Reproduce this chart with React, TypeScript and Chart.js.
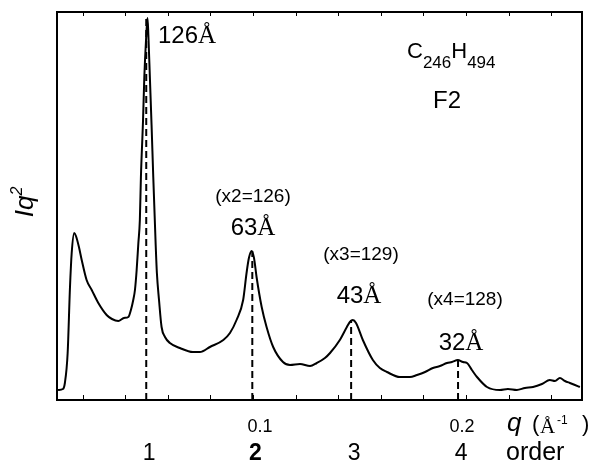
import React, { useEffect, useRef } from "react";
import { Chart, registerables } from "chart.js";

Chart.register(...registerables);

// Scattering vector q (Å^-1) and intensity Iq^2 (arbitrary units)
const qValues = [
  0.0085, 0.0108, 0.0117, 0.0130, 0.0141, 0.0149, 0.0161, 0.0169, 0.0183, 0.0196,
  0.0219, 0.0243, 0.0274, 0.0313, 0.0338, 0.0368, 0.0394, 0.0415, 0.0427, 0.0438,
  0.0446, 0.0454, 0.0462, 0.0469, 0.0474, 0.0484, 0.0490, 0.0498, 0.0505, 0.0509,
  0.0516, 0.0524, 0.0532, 0.0543, 0.0549, 0.0559, 0.0571, 0.0587, 0.0610, 0.0657,
  0.0718, 0.0751, 0.0798, 0.0861, 0.0892, 0.0923, 0.0954, 0.0970, 0.0981, 0.0994,
  0.1005, 0.1017, 0.1041, 0.1064, 0.1095, 0.1141, 0.1174, 0.1221, 0.1268, 0.1300,
  0.1338, 0.1362, 0.1408, 0.1441, 0.1455, 0.1469, 0.1484, 0.1516, 0.1563, 0.1596,
  0.1629, 0.1690, 0.1737, 0.1770, 0.1808, 0.1845, 0.1878, 0.1911, 0.1934, 0.1962,
  0.1986, 0.2005, 0.2028, 0.2052, 0.2099, 0.2160, 0.2197, 0.2239, 0.2277, 0.2315,
  0.2357, 0.2394, 0.2418, 0.2441, 0.2465, 0.2488, 0.2512, 0.2535,
];
const intensity = [
  10, 11, 17, 47, 113, 147, 167, 164, 153, 140,
  120, 110, 97, 85, 81, 79, 82, 83, 90, 100,
  110, 130, 157, 180, 223, 280, 323, 360, 382, 365,
  323, 275, 223, 157, 127, 100, 73, 63, 57, 52,
  48, 48, 53, 60, 67, 80, 100, 127, 142, 149,
  142, 123, 93, 73, 53, 38, 35, 36, 34, 37,
  42, 47, 60, 73, 78, 80, 77, 60, 40, 32,
  28, 23, 23, 25, 28, 32, 34, 37, 38, 40,
  38, 37, 30, 23, 13, 10, 11, 10, 12, 13,
  16, 20, 19, 22, 19, 17, 15, 13,
];

// Bragg peaks (dashed markers)
const peakQ = [0.0499, 0.0997, 0.1461, 0.1963];
const peakTop = [382, 149, 80, 40];
const spacingLabels = ["126", "63", "43", "32"];
const multipleLabels = ["", "(x2=126)", "(x3=129)", "(x4=128)"];
const orderLabels = ["1", "2", "3", "4"];

// Axis ticks
const minorTicks = [0.02, 0.04, 0.06, 0.08, 0.1, 0.12, 0.14, 0.16, 0.18, 0.2, 0.22, 0.24];
const tickLabelValues = [0.1, 0.2];
const tickLabels = ["0.1", "0.2"];

const SANS = "'Liberation Sans', Arial, sans-serif";
const SERIF = "'Liberation Serif', 'Times New Roman', serif";

type Part = { t: string; font: string; dy?: number };

function drawRun(ctx: CanvasRenderingContext2D, parts: Part[], x: number, y: number, align: "left" | "center") {
  let total = 0;
  const widths = parts.map((p) => {
    ctx.font = p.font;
    const w = ctx.measureText(p.t).width;
    total += w;
    return w;
  });
  let cx = align === "center" ? x - total / 2 : x;
  ctx.textAlign = "left";
  ctx.textBaseline = "alphabetic";
  parts.forEach((p, i) => {
    ctx.font = p.font;
    ctx.fillText(p.t, cx, y + (p.dy || 0));
    cx += widths[i];
  });
}

const overlayPlugin = {
  id: "overlay",
  afterDraw(chart: any) {
    const ctx: CanvasRenderingContext2D = chart.ctx;
    const a = chart.chartArea;
    const xs = chart.scales.x;
    ctx.save();
    ctx.fillStyle = "#000";
    ctx.strokeStyle = "#000";

    // frame
    ctx.lineWidth = 2;
    ctx.strokeRect(a.left, a.top, a.right - a.left, a.bottom - a.top);

    // tick marks (inside, top and bottom)
    ctx.lineWidth = 1;
    minorTicks.forEach((t) => {
      const px = Math.round(xs.getPixelForValue(t)) + 0.5;
      ctx.beginPath();
      ctx.moveTo(px, a.bottom);
      ctx.lineTo(px, a.bottom - 5);
      ctx.moveTo(px, a.top);
      ctx.lineTo(px, a.top + 4);
      ctx.stroke();
    });

    // tick labels
    const tickOffsets = [7, -4];
    tickLabelValues.forEach((v, i) => {
      const px = xs.getPixelForValue(v) + tickOffsets[i];
      drawRun(ctx, [{ t: tickLabels[i], font: `18px ${SANS}` }], px, 432, "center");
    });

    // order labels
    orderLabels.forEach((lab, i) => {
      const px = xs.getPixelForValue(peakQ[i]) + 3;
      const font = i === 1 ? `bold 23px ${SANS}` : `23px ${SANS}`;
      drawRun(ctx, [{ t: lab, font }], px, 460, "center");
    });
    drawRun(ctx, [{ t: "order", font: `25px ${SANS}` }], 506, 460, "left");

    // x axis title: q ( Å^-1 )
    drawRun(ctx, [{ t: "q", font: `italic 26px ${SANS}` }], 507, 431, "left");
    drawRun(ctx, [{ t: "(", font: `22px ${SANS}` }], 532, 431, "left");
    drawRun(ctx, [{ t: "Å", font: `21px ${SERIF}` }], 540, 433, "left");
    drawRun(ctx, [{ t: "-1", font: `12px ${SANS}` }], 557, 424, "left");
    drawRun(ctx, [{ t: ")", font: `22px ${SANS}` }], 582, 431, "left");

    // y axis title: Iq^2
    ctx.save();
    ctx.translate(33, 202);
    ctx.rotate(-Math.PI / 2);
    drawRun(
      ctx,
      [
        { t: "Iq", font: `italic 26px ${SANS}` },
        { t: "2", font: `italic 16px ${SANS}`, dy: -11 },
      ],
      0,
      0,
      "center"
    );
    ctx.restore();

    // peak spacing labels
    const spacingPos = [
      { x: 158, y: 43, align: "left" as const },
      { x: 253, y: 235, align: "center" as const },
      { x: 359, y: 303, align: "center" as const },
      { x: 461, y: 350, align: "center" as const },
    ];
    spacingLabels.forEach((s, i) => {
      const p = spacingPos[i];
      drawRun(
        ctx,
        [
          { t: s, font: `24px ${SANS}` },
          { t: "Å", font: `25px ${SERIF}` },
        ],
        p.x,
        p.y,
        p.align
      );
    });

    const multPos = [
      { x: 0, y: 0 },
      { x: 253, y: 202 },
      { x: 361, y: 260 },
      { x: 465, y: 305 },
    ];
    multipleLabels.forEach((m, i) => {
      if (!m) return;
      drawRun(ctx, [{ t: m, font: `19px ${SANS}` }], multPos[i].x, multPos[i].y, "center");
    });

    // sample label
    drawRun(
      ctx,
      [
        { t: "C", font: `22px ${SANS}` },
        { t: "246", font: `17px ${SANS}`, dy: 10 },
        { t: "H", font: `22px ${SANS}` },
        { t: "494", font: `17px ${SANS}`, dy: 10 },
      ],
      407,
      58,
      "left"
    );
    drawRun(ctx, [{ t: "F2", font: `24px ${SANS}` }], 447, 108, "center");

    ctx.restore();
  },
};

export default function App() {
  const canvasRef = useRef<HTMLCanvasElement | null>(null);

  useEffect(() => {
    const canvas = canvasRef.current;
    if (!canvas) return;
    const curve = qValues.map((q, i) => ({ x: q, y: intensity[i] }));
    const dashSets = peakQ.map((q, i) => ({
      type: "line" as const,
      data: [
        { x: q, y: 0 },
        { x: q, y: peakTop[i] },
      ],
      borderColor: "#000",
      borderWidth: 2,
      borderDash: [7, 4],
      pointRadius: 0,
      fill: false,
    }));
    const chart = new Chart(canvas, {
      type: "line",
      data: {
        datasets: [
          {
            data: curve,
            borderColor: "#000",
            borderWidth: 2,
            pointRadius: 0,
            fill: false,
            cubicInterpolationMode: "monotone",
          },
          ...dashSets,
        ] as any,
      },
      options: {
        animation: false,
        responsive: false,
        devicePixelRatio: 1,
        layout: { padding: { left: 57, top: 12, right: 12, bottom: 65 } },
        plugins: { legend: { display: false }, tooltip: { enabled: false } },
        scales: {
          x: { type: "linear", min: 0.008, max: 0.2545, display: false },
          y: { type: "linear", min: 0, max: 388, display: false },
        },
      },
      plugins: [overlayPlugin],
    });
    return () => chart.destroy();
  }, []);

  return (
    <div style={{ position: "fixed", left: 0, top: 0, width: 594, height: 465, background: "#fff" }}>
      <canvas ref={canvasRef} width={594} height={465} style={{ display: "block" }} />
    </div>
  );
}
